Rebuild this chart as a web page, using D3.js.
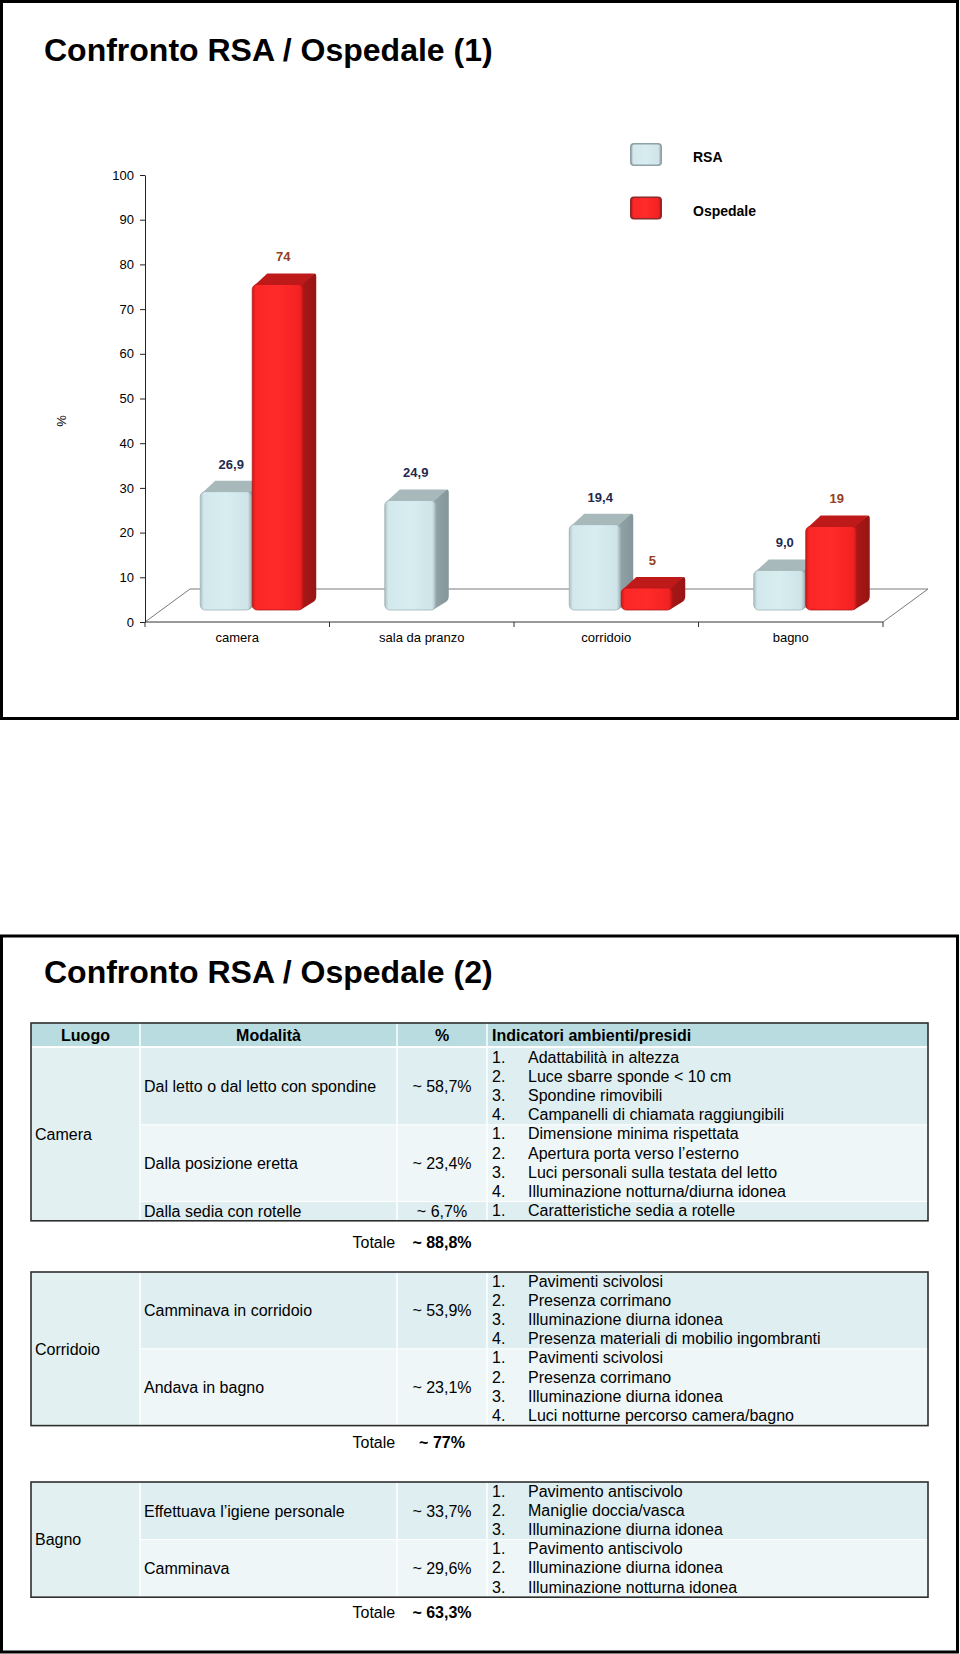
<!DOCTYPE html>
<html>
<head>
<meta charset="utf-8">
<script src="https://cdnjs.cloudflare.com/ajax/libs/d3/7.8.5/d3.min.js"></script>
<style>
  html, body { margin: 0; padding: 0; background: #fff; }
  svg { display: block; font-family: "Liberation Sans", Arial, Helvetica, sans-serif; }
</style>
</head>
<body>
<script>
// ---------------- DATA ----------------
const categories = ["camera", "sala da pranzo", "corridoio", "bagno"];
const seriesNames = ["RSA", "Ospedale"];
const rsaValues = [26.9, 24.9, 19.4, 9.0];
const ospedaleValues = [74, null, 5, 19];
const yTicks = [0, 10, 20, 30, 40, 50, 60, 70, 80, 90, 100];
const yAxisLabel = "%";
const chartTitle = "Confronto RSA / Ospedale (1)";
const tableTitle = "Confronto RSA / Ospedale (2)";

const tableHeaders = ["Luogo", "Modalità", "%", "Indicatori ambienti/presidi"];
const luoghi = ["Camera", "Corridoio", "Bagno"];
const modalita = [
  ["Dal letto o dal letto con spondine", "Dalla posizione eretta", "Dalla sedia con rotelle"],
  ["Camminava in corridoio", "Andava in bagno"],
  ["Effettuava l’igiene personale", "Camminava"]
];
const percentuali = [
  ["~ 58,7%", "~ 23,4%", "~ 6,7%"],
  ["~ 53,9%", "~ 23,1%"],
  ["~ 33,7%", "~ 29,6%"]
];
const totali = ["~ 88,8%", "~ 77%", "~ 63,3%"];
const totaleLabel = "Totale";
const indicatori = [
  [
    ["Adattabilità in altezza", "Luce sbarre sponde < 10 cm", "Spondine rimovibili", "Campanelli di chiamata raggiungibili"],
    ["Dimensione minima rispettata", "Apertura porta verso l’esterno", "Luci personali sulla testata del letto", "Illuminazione notturna/diurna idonea"],
    ["Caratteristiche sedia a rotelle"]
  ],
  [
    ["Pavimenti scivolosi", "Presenza corrimano", "Illuminazione diurna idonea", "Presenza materiali di mobilio ingombranti"],
    ["Pavimenti scivolosi", "Presenza corrimano", "Illuminazione diurna idonea", "Luci notturne percorso camera/bagno"]
  ],
  [
    ["Pavimento antiscivolo", "Maniglie doccia/vasca", "Illuminazione diurna idonea"],
    ["Pavimento antiscivolo", "Illuminazione diurna idonea", "Illuminazione notturna idonea"]
  ]
];

// ---------------- SETUP ----------------
const W = 960, H = 1654;
const svg = d3.select("body").append("svg").attr("width", W).attr("height", H);
svg.append("rect").attr("width", W).attr("height", H).attr("fill", "#fff");
const defs = svg.append("defs");

function hGrad(id, stops) {
  const g = defs.append("linearGradient").attr("id", id).attr("x1", "0").attr("x2", "1").attr("y1", "0").attr("y2", "0");
  stops.forEach(s => g.append("stop").attr("offset", s[0]).attr("stop-color", s[1]));
}
hGrad("rsaFront", [["0", "#aebfc3"], ["0.07", "#d3e8ec"], ["0.5", "#d8edf0"], ["0.93", "#cfe4e8"], ["1", "#a6b8bc"]]);
hGrad("redFront", [["0", "#cf1a1a"], ["0.07", "#fb2626"], ["0.5", "#ff2a2a"], ["0.93", "#f32222"], ["1", "#c41818"]]);
hGrad("rsaSide", [["0", "#93a5a8"], ["1", "#84969a"]]);
hGrad("redSide", [["0", "#aa1818"], ["1", "#981414"]]);

// frames
svg.append("rect").attr("x", 1.5).attr("y", 1.5).attr("width", 956).attr("height", 717)
  .attr("fill", "none").attr("stroke", "#000").attr("stroke-width", 3);
svg.append("rect").attr("x", 1.5).attr("y", 936).attr("width", 956).attr("height", 716)
  .attr("fill", "none").attr("stroke", "#000").attr("stroke-width", 3);

// ---------------- CHART ----------------
svg.append("text").attr("x", 44).attr("y", 61).attr("font-size", 32).attr("font-weight", "bold")
  .attr("fill", "#000").text(chartTitle);

const y = d3.scaleLinear().domain([0, 100]).range([622, 175]);
const yBar = d3.scaleLinear().domain([0, 100]).range([610, 170]);
const xCat = d3.scaleBand().domain(categories).range([145, 883]).padding(0);
const xSub = d3.scaleBand().domain(seriesNames).range([0, xCat.bandwidth()]).paddingInner(0).paddingOuter(0.774);
const depthX = 13, depthY = 11, shiftX = 15;

const chart = svg.append("g");

// floor
const floorBackY = y(0) - 33, floorDX = 45;
chart.append("path")
  .attr("d", `M${xCat.range()[0]},${y(0)} L${xCat.range()[0] + floorDX},${floorBackY} L${xCat.range()[1] + floorDX},${floorBackY} L${xCat.range()[1]},${y(0)}`)
  .attr("fill", "none").attr("stroke", "#7a7a7a").attr("stroke-width", 1);

// y axis
const yAxis = d3.axisLeft(y).tickValues(yTicks).tickSize(5).tickSizeOuter(0).tickPadding(6);
const gy = chart.append("g").attr("transform", `translate(${xCat.range()[0]},0)`).call(yAxis);
gy.selectAll("text").attr("font-size", 13).attr("font-family", "Liberation Sans, Arial, sans-serif").attr("fill", "#000");
gy.selectAll("line, path").attr("stroke", "#222");

// x axis line + ticks at band boundaries
chart.append("line").attr("x1", xCat.range()[0]).attr("x2", xCat.range()[1]).attr("y1", y(0)).attr("y2", y(0))
  .attr("stroke", "#333");
const bounds = categories.map(c => xCat(c)).concat([xCat.range()[1]]);
chart.selectAll(".xt").data(bounds).enter().append("line")
  .attr("x1", d => d).attr("x2", d => d).attr("y1", y(0)).attr("y2", y(0) + 5).attr("stroke", "#333");
chart.selectAll(".xl").data(categories).enter().append("text")
  .attr("x", d => xCat(d) + xCat.bandwidth() / 2).attr("y", y(0) + 20)
  .attr("text-anchor", "middle").attr("font-size", 13).attr("fill", "#000").text(d => d);

// y label
chart.append("text").attr("transform", `translate(66,${y(45)}) rotate(-90)`)
  .attr("text-anchor", "middle").attr("font-size", 13).attr("fill", "#000").text(yAxisLabel);

// bars
const styles = {
  RSA: { front: "url(#rsaFront)", side: "url(#rsaSide)", top: "#a8b9bc", stroke: "#9fb2b5", label: "#1f2a4f" },
  Ospedale: { front: "url(#redFront)", side: "url(#redSide)", top: "#bf1a1a", stroke: "#b31616", label: "#94401c" }
};
const barData = [];
categories.forEach((c, i) => {
  barData.push({ cat: c, s: "RSA", v: rsaValues[i], label: d3.format(".1f")(rsaValues[i]).replace(".", ",") });
  if (ospedaleValues[i] != null)
    barData.push({ cat: c, s: "Ospedale", v: ospedaleValues[i], label: d3.format("d")(ospedaleValues[i]) });
});

function drawBar(g, d) {
  const st = styles[d.s];
  const x0 = xCat(d.cat) + xSub(d.s) + shiftX;
  const w = xSub.bandwidth() - 1;
  const yt = yBar(d.v), yb = yBar(0);
  const bg = g.append("g");
  bg.append("path")
    .attr("d", `M${x0 + w - 3},${yt} L${x0 + w + depthX - 2},${yt - depthY} Q${x0 + w + depthX},${yt - depthY} ${x0 + w + depthX},${yt - depthY + 3} L${x0 + w + depthX},${yb - depthY - 3} Q${x0 + w + depthX},${yb - depthY + 1} ${x0 + w + depthX - 3},${yb - depthY + 3} L${x0 + w - 3},${yb} Z`)
    .attr("fill", st.side);
  bg.append("path")
    .attr("d", `M${x0 + 2},${yt + 1} L${x0 + depthX + 2},${yt - depthY} L${x0 + w + depthX - 2},${yt - depthY} L${x0 + w - 2},${yt + 1} Z`)
    .attr("fill", st.top);
  bg.append("rect").attr("x", x0).attr("y", yt).attr("width", w).attr("height", yb - yt)
    .attr("rx", 5).attr("ry", 5).attr("fill", st.front).attr("stroke", st.stroke).attr("stroke-width", 0.8);
}
barData.forEach(d => drawBar(chart, d));

chart.selectAll(".bl").data(barData).enter().append("text")
  .attr("x", d => xCat(d.cat) + xSub(d.s) + shiftX + xSub.bandwidth() / 2 + 5)
  .attr("y", d => yBar(d.v) - 23)
  .attr("text-anchor", "middle").attr("font-size", 13).attr("font-weight", "bold")
  .attr("fill", d => styles[d.s].label).text(d => d.label);

// legend
const legend = chart.append("g");
seriesNames.forEach((s, i) => {
  const ly = 143 + i * 53.5;
  const st = styles[s];
  legend.append("rect").attr("x", 630).attr("y", ly).attr("width", 32).attr("height", 23).attr("rx", 4)
    .attr("fill", s === "RSA" ? "#8fa1a4" : "#8a2a2a");
  legend.append("rect").attr("x", 631.5).attr("y", ly + 1.5).attr("width", 29).attr("height", 20).attr("rx", 3)
    .attr("fill", st.front);
  legend.append("text").attr("x", 693).attr("y", ly + 19).attr("font-size", 14).attr("font-weight", "bold")
    .attr("fill", "#000").text(s);
});

// ---------------- TABLE ----------------
svg.append("text").attr("x", 44).attr("y", 983).attr("font-size", 32).attr("font-weight", "bold")
  .attr("fill", "#000").text(tableTitle);

const colX = [31, 140, 397, 487, 928];
const lineH = 19.2;
const sectionTops = [1023, 1272, 1482];
const totalYs = [1248, 1448, 1618];
const headerH = 23, headerGap = 2;
const colors = { header: "#b8dcdf", row1: "#dfeef0", row2: "#eef6f7", luogo: "#e2f0f1", border: "#2e2e2e" };
const tbl = svg.append("g");

luoghi.forEach((luogo, si) => {
  let top = sectionTops[si];
  const g = tbl.append("g");
  const tableTop = top;
  if (si === 0) {
    g.append("rect").attr("x", colX[0]).attr("y", top).attr("width", colX[4] - colX[0]).attr("height", headerH).attr("fill", colors.header);
    tableHeaders.forEach((h, ci) => {
      const t = g.append("text").attr("y", top + 17.5).attr("font-size", 16).attr("font-weight", "bold").attr("fill", "#000").text(h);
      if (ci < 3) t.attr("x", (colX[ci] + colX[ci + 1]) / 2).attr("text-anchor", "middle");
      else t.attr("x", colX[3] + 5);
    });
    top += headerH + headerGap;
  }
  const bodyTop = top;
  const rows = modalita[si];
  const heights = indicatori[si].map(a => a.length * lineH);
  const bodyH = d3.sum(heights);
  // luogo cell
  g.append("rect").attr("x", colX[0]).attr("y", bodyTop).attr("width", colX[1] - colX[0]).attr("height", bodyH).attr("fill", colors.luogo);
  g.append("text").attr("x", colX[0] + 4).attr("y", bodyTop + bodyH / 2 + 5.7).attr("font-size", 16).attr("fill", "#000").text(luogo);
  let ry = bodyTop;
  rows.forEach((m, ri) => {
    const rh = heights[ri];
    g.append("rect").attr("x", colX[1]).attr("y", ry).attr("width", colX[4] - colX[1]).attr("height", rh)
      .attr("fill", ri % 2 === 0 ? colors.row1 : colors.row2);
    g.append("text").attr("x", colX[1] + 4).attr("y", ry + rh / 2 + 5.7).attr("font-size", 16).attr("fill", "#000").text(m);
    g.append("text").attr("x", (colX[2] + colX[3]) / 2).attr("y", ry + rh / 2 + 5.7).attr("text-anchor", "middle")
      .attr("font-size", 16).attr("fill", "#000").text(percentuali[si][ri]);
    indicatori[si][ri].forEach((it, k) => {
      const by = ry + 14.5 + k * lineH;
      g.append("text").attr("x", colX[3] + 5).attr("y", by).attr("font-size", 16).attr("fill", "#000").text((k + 1) + ".");
      g.append("text").attr("x", colX[3] + 41).attr("y", by).attr("font-size", 16).attr("fill", "#000").text(it);
    });
    if (ri > 0) {
      g.append("line").attr("x1", colX[1]).attr("x2", colX[4]).attr("y1", ry).attr("y2", ry).attr("stroke", "#fff").attr("stroke-width", 1);
    }
    ry += rh;
  });
  // white separators
  [colX[1], colX[2], colX[3]].forEach(cx => {
    g.append("line").attr("x1", cx).attr("x2", cx).attr("y1", tableTop).attr("y2", tableTop + (bodyTop - tableTop) + bodyH)
      .attr("stroke", "#fff").attr("stroke-width", 1.5);
  });
  if (si === 0) {
    g.append("line").attr("x1", colX[0]).attr("x2", colX[4]).attr("y1", bodyTop - 1).attr("y2", bodyTop - 1)
      .attr("stroke", "#fff").attr("stroke-width", 2);
  }
  // outer border
  g.append("rect").attr("x", colX[0]).attr("y", tableTop).attr("width", colX[4] - colX[0]).attr("height", bodyTop - tableTop + bodyH)
    .attr("fill", "none").attr("stroke", colors.border).attr("stroke-width", 1.6);
  // total
  g.append("text").attr("x", 352.5).attr("y", totalYs[si]).attr("font-size", 16).attr("fill", "#000").text(totaleLabel);
  g.append("text").attr("x", (colX[2] + colX[3]) / 2).attr("y", totalYs[si]).attr("text-anchor", "middle")
    .attr("font-size", 16).attr("font-weight", "bold").attr("fill", "#000").text(totali[si]);
});
</script>
</body>
</html>
